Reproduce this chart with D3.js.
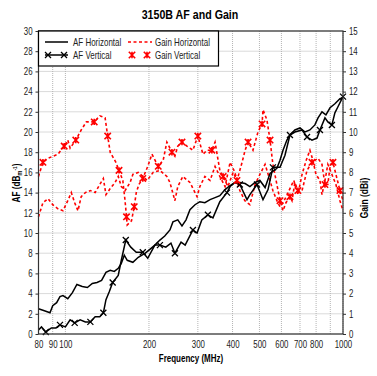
<!DOCTYPE html>
<html>
<head>
<meta charset="utf-8">
<script src="https://cdn.jsdelivr.net/npm/d3@7"></script>
<style>
  body { margin: 0; background: #fff; }
  svg { font-family: "Liberation Sans", Arial, sans-serif; }
</style>
</head>
<body>
<div class="container"></div>
<script>
let width = 377
let height = 376
let margin = { left: 38.5, right: 34, top: 31, bottom: 42 }

// data: [frequency MHz, value]
const afHorizontal = [
  [80, 2.5], [84, 2.3], [88, 2.1], [90, 2.8], [93, 3.1], [95.6, 3.7], [98, 3.8], [102, 3.5],
  [106, 4.1], [110, 4.9], [115, 4.7], [120, 4.6], [125, 5.0], [130, 5.1], [135, 5.3], [140, 6.1],
  [145, 6.3], [150, 6.2], [155, 6.5], [159, 7.0], [163, 7.8], [167, 7.3], [175, 7.1], [183, 7.6],
  [194, 8.0], [202, 8.4], [210, 8.8], [219, 9.3], [228, 9.7], [238, 10.3], [244, 11.1], [254, 11.3],
  [263, 10.7], [272, 11.3], [281, 12.3], [293, 12.8], [305, 13.1], [318, 13.0], [332, 13.3], [346, 13.5],
  [360, 13.7], [376, 14.3], [392, 14.7], [408, 15.0], [425, 15.0], [444, 14.9], [462, 14.6], [482, 15.0],
  [502, 15.2], [524, 14.5], [546, 15.9], [578, 16.4], [593, 17.2], [608, 18.2], [628, 19.2], [644, 19.7],
  [671, 20.2], [700, 20.4], [730, 20.0], [760, 20.2], [792, 20.7], [813, 21.4], [840, 22.0], [868, 21.7],
  [898, 22.4], [935, 22.8], [975, 23.3], [1000, 23.4]
]

const afVertical = [
  [80, 0.4], [82, 0.7], [85, 0.2], [89, 0.6], [92.5, 0.6], [95.6, 0.9], [100, 0.7], [104, 1.4],
  [108, 1.1], [113, 1.4], [118, 1.2], [123, 1.2], [128, 1.7], [133, 1.7], [137, 2.1], [140, 3.4],
  [144, 4.2], [148, 5.1], [155, 5.8], [159, 7.3], [165, 9.3], [172, 8.6], [180, 8.1], [190, 8.1],
  [198, 7.5], [210, 8.8], [219, 8.8], [230, 8.6], [240, 9.0], [248, 8.0], [261, 9.1], [270, 8.8],
  [288, 10.3], [298, 10.0], [310, 11.3], [326, 11.8], [340, 11.5], [360, 13.1], [382, 14.0], [392, 14.6],
  [408, 15.0], [425, 14.8], [451, 13.3], [462, 13.8], [490, 14.8], [515, 13.3], [537, 14.3], [559, 16.5],
  [593, 16.5], [618, 17.7], [644, 19.7], [671, 20.0], [712, 20.2], [742, 19.5], [773, 19.2], [806, 19.4],
  [826, 20.2], [861, 21.4], [882, 21.0], [912, 20.7], [935, 21.9], [959, 22.5], [1000, 23.5]
]

const gainHorizontal = [
  [80, 5.8], [83, 6.5], [86.6, 6.7], [90, 6.4], [94, 6.2], [98, 6.1], [102, 6.6], [105, 7.0],
  [108, 6.5], [111, 6.1], [114, 6.8], [118, 7.0], [123, 7.1], [128, 7.0], [133, 7.4], [137, 7.7],
  [140, 6.9], [145, 7.2], [151, 7.5], [155, 7.8], [159, 7.3], [164, 7.1], [171, 7.5], [175, 7.9],
  [183, 8.0], [190, 7.8], [197, 7.6], [207, 8.0], [219, 8.1], [232, 7.8], [238, 7.5], [248, 6.6],
  [254, 7.3], [265, 7.8], [281, 7.5], [298, 6.8], [305, 7.3], [318, 7.8], [332, 7.6], [346, 8.3],
  [360, 7.8], [376, 7.3], [392, 8.5], [408, 8.0], [425, 7.1], [443, 6.6], [462, 6.4], [482, 7.4],
  [502, 7.9], [524, 8.4], [546, 7.6], [559, 7.1], [578, 6.6], [593, 6.3], [608, 6.5], [630, 6.9],
  [644, 7.2], [665, 7.6], [688, 6.9], [712, 7.9], [737, 8.6], [760, 9.1], [779, 8.6], [799, 7.9],
  [826, 7.6], [840, 6.9], [861, 7.6], [882, 8.4], [912, 7.9], [943, 7.4], [975, 6.6], [1000, 6.1]
]

const gainVertical = [
  [80, 7.8], [83, 8.5], [86.6, 8.7], [94, 8.9], [99, 9.3], [102, 9.6], [104, 9.2], [109, 9.6],
  [114, 10.1], [119, 10.5], [127, 10.5], [133, 10.8], [139, 10.7], [142, 9.8], [145, 9.0], [152, 8.5],
  [156, 8.1], [161, 7.6], [164, 6.6], [166, 5.8], [167, 5.4], [173, 5.6], [177, 6.3], [180, 7.0],
  [184, 7.4], [190, 7.7], [198, 8.3], [205, 8.9], [216, 8.3], [225, 8.6], [232, 9.5], [242, 9.0],
  [248, 8.8], [254, 9.3], [263, 9.5], [274, 9.3], [288, 9.1], [300, 9.8], [313, 8.9], [324, 9.1],
  [337, 9.1], [346, 9.5], [360, 8.1], [370, 7.8], [385, 7.3], [402, 8.0], [415, 7.6], [433, 8.5],
  [444, 9.1], [455, 9.5], [474, 9.1], [494, 10.0], [511, 10.4], [515, 11.1], [532, 10.6], [546, 9.6],
  [559, 8.4], [578, 7.4], [593, 6.6], [608, 6.1], [623, 6.5], [644, 6.8], [655, 6.6], [671, 7.5],
  [688, 7.1], [712, 7.1], [742, 8.1], [773, 8.5], [813, 8.7], [840, 8.4], [861, 7.4], [882, 7.4],
  [898, 8.3], [920, 8.5], [943, 7.9], [959, 7.5], [975, 7.1], [1000, 6.6]
]

const freqTicks = [80, 90, 100, 200, 300, 400, 500, 600, 700, 800, 900, 1000]
const freqLabels = ['80', '90', '100', '200', '300', '400', '500', '600', '700', '800', '', '1000']
const afTicks = d3.range(0, 31, 2)
const gainTicks = d3.range(0, 16, 1)

let svg = d3.select('.container')
  .append('svg')
  .attr('width', width)
  .attr('height', height)

let x = d3.scaleLog().domain([80, 1000]).range([margin.left, width - margin.right])
let yAF = d3.scaleLinear().domain([0, 30]).range([height - margin.bottom, margin.top])
let yGain = d3.scaleLinear().domain([0, 15]).range([height - margin.bottom, margin.top])

let plotLeft = margin.left, plotRight = width - margin.right
let plotTop = margin.top, plotBottom = height - margin.bottom

// the source uses a narrow face, so squeeze text horizontally
function narrow(sel, k) {
  sel.each(function () {
    let t = d3.select(this)
    let tx = +t.attr('x') || 0
    t.attr('x', tx / k).attr('transform', `scale(${k},1)`)
  })
}

// grid
let grid = svg.append('g').attr('stroke', '#b4b4b4').attr('stroke-width', 1).attr('stroke-dasharray', '1,1')
grid.selectAll('.gx').data(freqTicks).enter().append('line')
  .attr('x1', d => x(d)).attr('x2', d => x(d)).attr('y1', plotTop).attr('y2', plotBottom)
grid.selectAll('.gy').data(afTicks).enter().append('line')
  .attr('x1', plotLeft).attr('x2', plotRight).attr('y1', d => yAF(d)).attr('y2', d => yAF(d))

// lines
let lineAF = d3.line().x(d => x(d[0])).y(d => yAF(d[1]))
let lineGain = d3.line().x(d => x(d[0])).y(d => yGain(d[1]))

svg.append('path').datum(gainHorizontal)
  .attr('d', lineGain).attr('fill', 'none').attr('stroke', '#f00')
  .attr('stroke-width', 1.6).attr('stroke-dasharray', '3,2.5')
svg.append('path').datum(gainVertical)
  .attr('d', lineGain).attr('fill', 'none').attr('stroke', '#f00')
  .attr('stroke-width', 1.6).attr('stroke-dasharray', '3,2.5')

svg.append('path').datum(afHorizontal)
  .attr('d', lineAF).attr('fill', 'none').attr('stroke', '#000').attr('stroke-width', 1.5)
svg.append('path').datum(afVertical)
  .attr('d', lineAF).attr('fill', 'none').attr('stroke', '#000').attr('stroke-width', 1.5)

function cross(sel, s) {
  sel.append('path').attr('d', `M${-s},${-s}L${s},${s}M${-s},${s}L${s},${-s}`)
}
function star(sel, s) {
  sel.append('path').attr('d', `M${-s},${-s}L${s},${s}M${-s},${s}L${s},${-s}M0,${-s}L0,${s}`)
}

svg.append('g').attr('stroke', '#000').attr('stroke-width', 1.3).attr('fill', 'none')
  .selectAll('g').data(afVertical.filter((d, i) => i % 3 === 2)).enter().append('g')
  .attr('transform', d => `translate(${x(d[0])},${yAF(d[1])})`)
  .each(function () { cross(d3.select(this), 3) })

svg.append('g').attr('stroke', '#f00').attr('stroke-width', 1.6).attr('fill', 'none')
  .selectAll('g').data(gainVertical.filter((d, i) => i % 3 === 1)).enter().append('g')
  .attr('transform', d => `translate(${x(d[0])},${yGain(d[1])})`)
  .each(function () { star(d3.select(this), 3.2) })

// frame
svg.append('rect').attr('x', plotLeft).attr('y', plotTop)
  .attr('width', plotRight - plotLeft).attr('height', plotBottom - plotTop)
  .attr('fill', 'none').attr('stroke', '#333').attr('stroke-width', 1.2)

// axes
let axisStyle = g => {
  g.select('.domain').remove()
  g.selectAll('line').attr('stroke', '#333')
  g.selectAll('text').attr('font-size', 10.5).attr('fill', '#222').call(narrow, 0.75)
}
svg.append('g').attr('transform', `translate(${plotLeft},0)`)
  .call(d3.axisLeft(yAF).tickValues(afTicks).tickSize(3).tickPadding(3))
  .call(axisStyle)
svg.append('g').attr('transform', `translate(${plotRight},0)`)
  .call(d3.axisRight(yGain).tickValues(gainTicks).tickSize(3).tickPadding(3))
  .call(axisStyle)
svg.append('g').attr('transform', `translate(0,${plotBottom})`)
  .call(d3.axisBottom(x).tickValues(freqTicks).tickFormat((d, i) => freqLabels[i]).tickSize(0).tickPadding(7))
  .call(axisStyle)

// titles
svg.append('text').attr('x', 190).attr('y', 19).attr('text-anchor', 'middle')
  .attr('font-size', 13).attr('font-weight', 'bold').text('3150B AF and Gain')
  .call(narrow, 0.82)
svg.append('text').attr('x', 191).attr('y', 362).attr('text-anchor', 'middle')
  .attr('font-size', 10).attr('font-weight', 'bold').text('Frequency (MHz)')
  .call(narrow, 0.8)

let afLabel = svg.append('text').attr('transform', 'translate(20,183) rotate(-90) scale(0.82,1)')
  .attr('text-anchor', 'middle').attr('font-size', 10).attr('font-weight', 'bold')
afLabel.append('tspan').text('AF (dB')
afLabel.append('tspan').attr('font-size', 7).attr('dy', 2).text('m')
afLabel.append('tspan').attr('font-size', 6).attr('dy', -5).text('-1')
afLabel.append('tspan').attr('dy', 3).text(')')

svg.append('text').attr('transform', 'translate(368,198) rotate(-90) scale(0.85,1)')
  .attr('text-anchor', 'middle').attr('font-size', 10).attr('font-weight', 'bold').text('Gain (dBi)')

// legend
let legend = svg.append('g')
legend.append('rect').attr('x', plotLeft).attr('y', plotTop).attr('width', 180).attr('height', 35)
  .attr('fill', '#fff').attr('stroke', '#000').attr('stroke-width', 1.2)
legend.append('line').attr('x1', 45).attr('x2', 68).attr('y1', 42).attr('y2', 42)
  .attr('stroke', '#000').attr('stroke-width', 1.5)
legend.append('line').attr('x1', 45).attr('x2', 68).attr('y1', 55).attr('y2', 55)
  .attr('stroke', '#000').attr('stroke-width', 1.5)
legend.append('g').attr('stroke', '#000').attr('stroke-width', 1.3)
  .selectAll('g').data([48, 64]).enter().append('g')
  .attr('transform', d => `translate(${d},55)`)
  .each(function () { cross(d3.select(this), 3) })
legend.append('line').attr('x1', 128).attr('x2', 152).attr('y1', 42).attr('y2', 42)
  .attr('stroke', '#f00').attr('stroke-width', 1.6).attr('stroke-dasharray', '3,2.5')
legend.append('g').attr('stroke', '#f00').attr('stroke-width', 1.6)
  .selectAll('g').data([132, 147]).enter().append('g')
  .attr('transform', d => `translate(${d},55)`)
  .each(function () { star(d3.select(this), 3.2) })
let legendText = [['AF Horizontal', 73, 46], ['AF Vertical', 73, 59], ['Gain Horizontal', 155, 46], ['Gain Vertical', 155, 59]]
legend.selectAll('text').data(legendText).enter().append('text')
  .attr('x', d => d[1]).attr('y', d => d[2]).attr('font-size', 10.5).attr('fill', '#222').text(d => d[0])
  .call(narrow, 0.76)
</script>
</body>
</html>
